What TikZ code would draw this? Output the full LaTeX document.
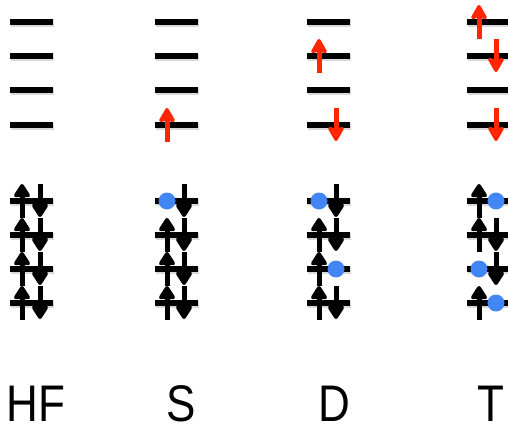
\documentclass[tikz,border=0pt]{standalone}
\usepackage{fontspec}
\setmainfont{Liberation Sans}
\usetikzlibrary{arrows.meta}
\definecolor{redarr}{RGB}{255,38,0}
\definecolor{holeblue}{RGB}{66,133,244}
\newcommand\spinup[3]{\draw[#3] (#1,#2+17) -- (#1,#2-17);}
\newcommand\spindown[3]{\draw[#3] (#1,#2-17) -- (#1,#2+16);}
\newcommand\hole[2]{\fill[holeblue] (#1,#2) circle[radius=8.5];}
\begin{document}
\begin{tikzpicture}[x=1pt,y=-1pt,
  orbital/.style={line width=6pt, preaction={draw=black!15, line width=7pt, transform canvas={shift={(0.8pt,-1.6pt)}}}},
  bspin/.style={line width=5pt, -{Triangle[length=15pt,width=18pt,round]}},
  rspin/.style={draw=redarr, line width=5pt, -{Stealth[length=17pt,width=19pt,inset=3pt,round]}},
  lab/.style={anchor=base, inner sep=0pt, font=\fontsize{44}{48}\selectfont}]
\useasboundingbox (0,0) rectangle (508,423);
\begin{scope}
\clip (0,0) rectangle (508,423);
% orbital levels
\foreach \x in {10,155,307,467}
  \foreach \y in {22,56,90,125,201,235,269,303}
    \draw[orbital] (\x,\y) -- ++(43,0);
% HF
\foreach \y in {201,235,269,303} {\spinup{22}{\y}{bspin}\spindown{40}{\y}{bspin}}
% S
\hole{167}{201}\spindown{184}{201}{bspin}
\foreach \y in {235,269,303} {\spinup{167}{\y}{bspin}\spindown{184}{\y}{bspin}}
\spinup{167}{125}{rspin}
% D
\hole{319}{201}\spindown{336}{201}{bspin}
\spinup{319}{235}{bspin}\spindown{336}{235}{bspin}
\spinup{319}{269}{bspin}\hole{336}{269}
\spinup{319}{303}{bspin}\spindown{336}{303}{bspin}
\spinup{319}{56}{rspin}
\spindown{336}{125}{rspin}
% T
\spinup{479}{201}{bspin}\hole{496}{201}
\spinup{479}{235}{bspin}\spindown{496}{235}{bspin}
\hole{479}{269}\spindown{496}{269}{bspin}
\spinup{479}{303}{bspin}\hole{496}{303}
\spinup{479}{22}{rspin}
\spindown{496}{56}{rspin}
\spindown{496}{125}{rspin}
\end{scope}
% labels
\node[lab] (hf) at (36,421) {\scalebox{1}[1.17]{HF}};
\node[lab] (s) at (181.5,421) {\scalebox{1}[1.17]{S}};
\node[lab] (d) at (334,421) {\scalebox{1}[1.17]{D}};
\node[lab] (t) at (490.5,421) {\scalebox{1}[1.17]{T}};
\end{tikzpicture}
\end{document}
